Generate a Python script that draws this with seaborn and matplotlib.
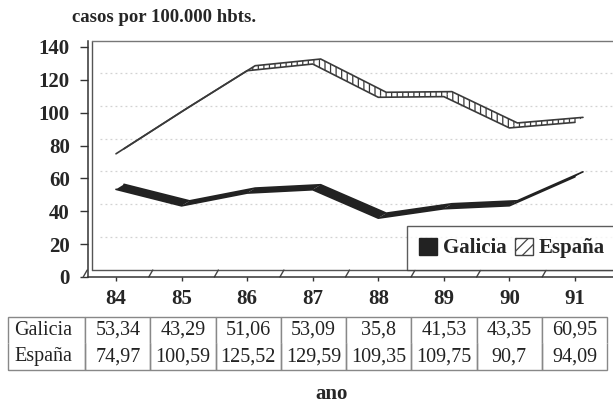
import matplotlib
matplotlib.use("Agg")
import matplotlib.pyplot as plt
import matplotlib.transforms as mtransforms
from matplotlib.patches import Patch
import numpy as np
import pandas as pd
import seaborn as sns

# ---------------- data ----------------
years = [84, 85, 86, 87, 88, 89, 90, 91]
year_labels = ["84", "85", "86", "87", "88", "89", "90", "91"]
galicia = [53.34, 43.29, 51.06, 53.09, 35.8, 41.53, 43.35, 60.95]
espana = [74.97, 100.59, 125.52, 129.59, 109.35, 109.75, 90.7, 94.09]
galicia_txt = ["53,34", "43,29", "51,06", "53,09", "35,8", "41,53", "43,35", "60,95"]
espana_txt = ["74,97", "100,59", "125,52", "129,59", "109,35", "109,75", "90,7", "94,09"]
series_names = ["Galicia", "España"]
y_ticks = [0, 20, 40, 60, 80, 100, 120, 140]
subtitle = "casos por 100.000 hbts."
xlabel = "ano"

# ---------------- style ----------------
sns.set_theme(style="white")
plt.rcParams["font.family"] = ["Liberation Serif", "DejaVu Serif"]
plt.rcParams["hatch.linewidth"] = 0.9

W, H = 613, 403
fig = plt.figure(figsize=(W / 100, H / 100), dpi=100)
ax = fig.add_axes([88 / W, (H - 277) / H, 525 / W, 236 / H])
ax.set_xlim(83.573, 91.58)
ax.set_ylim(0, 143.6)

df = pd.DataFrame({"year": years * 2,
                   "value": galicia + espana,
                   "serie": [series_names[0]] * len(years) + [series_names[1]] * len(years)})

# depth offsets (pixels) converted through the axes transform
def depth_data(dx_px, dy_px):
    inv = ax.transData.inverted()
    p0 = ax.transData.transform((years[0], 0))
    p1 = inv.transform(p0 + np.array([dx_px, dy_px]))
    return p1[0] - years[0], p1[1]

ddx, ddy = depth_data(8, 5)
back = ax.transData + mtransforms.ScaledTranslation(8 / 100, 5 / 100, fig.dpi_scale_trans)
wall = ax.transData + mtransforms.ScaledTranslation(4 / 100, 7 / 100, fig.dpi_scale_trans)

# back-wall gridlines (faint dotted)
for v in y_ticks[1:-1]:
    ax.plot([years[0] - 0.3, 91.6], [v, v], transform=wall, color="#d2d2d2",
            lw=0.9, ls=(0, (1.5, 2.5)), zorder=0.5)

# frame: double left wall, double floor, top border
ax.spines["top"].set_visible(False)
ax.spines["right"].set_visible(False)
for s in ("left", "bottom"):
    ax.spines[s].set_color("#333333")
    ax.spines[s].set_linewidth(1.1)
ax.plot([4 / 525, 4 / 525], [7 / 236, 1], transform=ax.transAxes, color="#555555", lw=1.0, clip_on=False)
ax.plot([4 / 525, 1], [7 / 236, 7 / 236], transform=ax.transAxes, color="#555555", lw=1.0, clip_on=False)
ax.plot([4 / 525, 1], [1, 1], transform=ax.transAxes, color="#777777", lw=1.0, clip_on=False)
# floor depth marks between categories
fdx, fdy = depth_data(4, 7)
for i in range(len(years)):
    xm = years[i] - 0.5
    ax.plot([xm, xm + fdx], [0, fdy], color="#444444", lw=1.0, clip_on=False)

# ribbons
def ribbon(yvals, face, hatch, edge, z):
    for i in range(len(years) - 1):
        xs = [years[i], years[i + 1], years[i + 1] + ddx, years[i] + ddx]
        ys = [yvals[i], yvals[i + 1], yvals[i + 1] + ddy, yvals[i] + ddy]
        ax.fill(xs, ys, facecolor=face, edgecolor=edge, hatch=hatch, lw=0, zorder=z)
    ax.plot(years, yvals, transform=back, color=edge, lw=1.2, zorder=z + 0.1, solid_joinstyle="miter")

ribbon(espana, "white", "|||", "#3a3a3a", 2)
ribbon(galicia, "#222222", None, "#222222", 3)
sns.lineplot(data=df, x="year", y="value", hue="serie",
             palette={series_names[0]: "#222222", series_names[1]: "#3a3a3a"},
             lw=1.2, legend=False, ax=ax, zorder=4, sort=False)

# axes ticks
ax.set_xticks(years)
ax.set_xticklabels(year_labels, fontsize=15, fontweight="bold")
ax.set_yticks(y_ticks)
ax.set_yticklabels([str(v) for v in y_ticks], fontsize=15, fontweight="bold")
ax.tick_params(axis="y", left=True, length=6, width=1, pad=7, color="#333333")
ax.tick_params(axis="x", bottom=True, length=3, width=1, pad=6, color="#333333")
ax.set_xlabel("")
ax.set_ylabel("")

# legend
handles = [Patch(facecolor="#222222", edgecolor="#222222", label=series_names[0]),
           Patch(facecolor="white", edgecolor="#444444", hatch="///", label=series_names[1])]
leg = ax.legend(handles=handles, loc="lower left", bbox_to_anchor=(0.608, 0.03), ncol=2,
                frameon=True, fancybox=False, prop={"weight": "bold", "size": 15},
                handlelength=0.9, handleheight=0.85, handletextpad=0.25, columnspacing=0.4,
                borderpad=0.55, borderaxespad=0)
leg.get_frame().set_edgecolor("#333333")
leg.get_frame().set_linewidth(1.0)
leg.set_zorder(6)

# data table
cell_text = [[series_names[0]] + galicia_txt, [series_names[1]] + espana_txt]
tbl = ax.table(cellText=cell_text, colWidths=[77] + [65.25] * len(years),
               cellLoc="center", bbox=[-0.152, -0.394, 1.141, 0.2246])
tbl.auto_set_font_size(False)
tbl.set_fontsize(14.5)
for (r, c), cell in tbl.get_celld().items():
    cell.set_edgecolor("#888888")
    cell.set_linewidth(1.0)
    cell.visible_edges = "LRT" if r == 0 else "LRB"
    cell.get_text().set_color("#222222")
    if c == 0:
        cell.get_text().set_horizontalalignment("left")
        cell.PAD = 0.08

# texts
fig.text(72 / W, 1 - 17 / H, subtitle, fontsize=13.5, fontweight="bold", va="center", ha="left")
fig.text(332 / W, 1 - 394 / H, xlabel, fontsize=15, fontweight="bold", va="center", ha="center")

fig.savefig("out.png", dpi=100)
